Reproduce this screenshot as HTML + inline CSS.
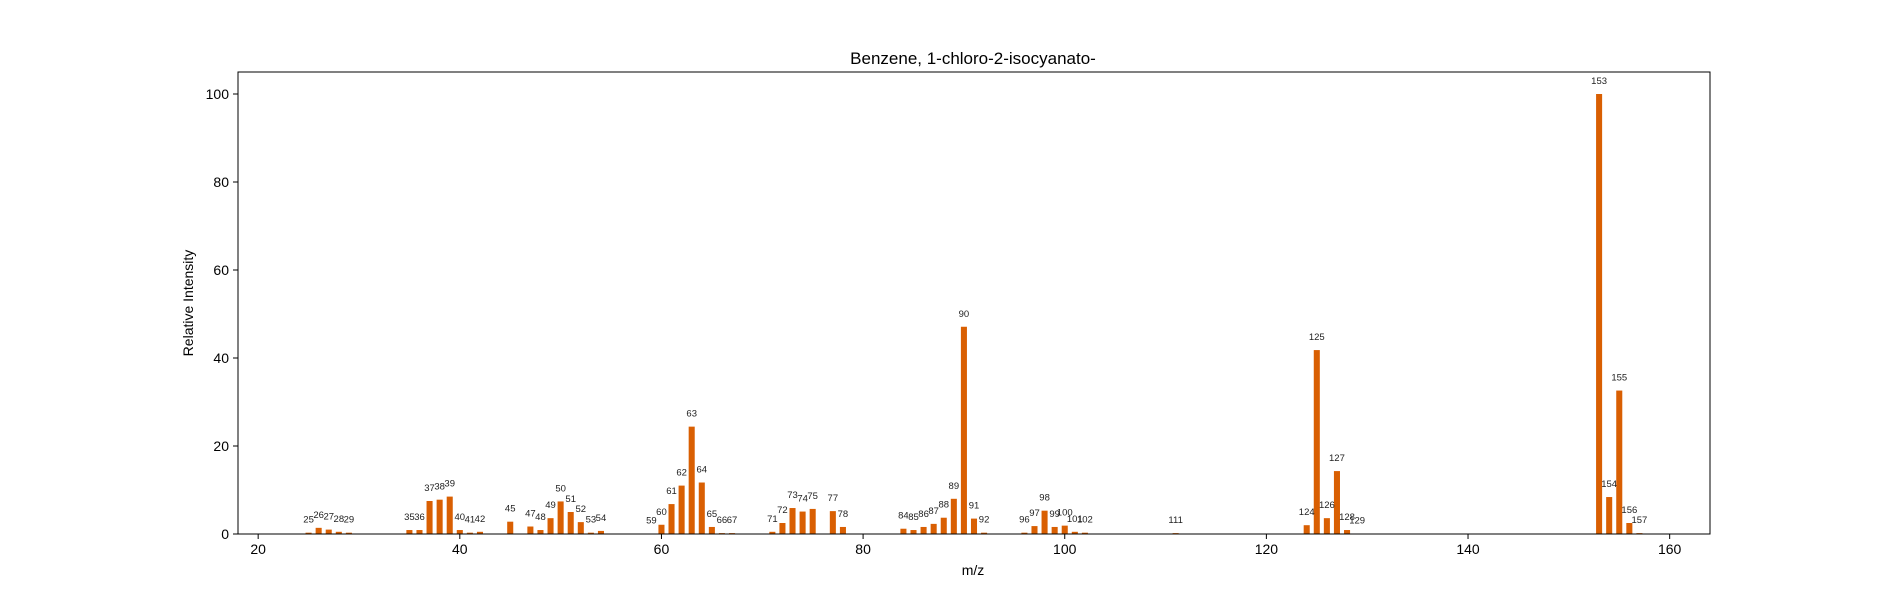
<!DOCTYPE html>
<html><head><meta charset="utf-8"><style>
html,body{margin:0;padding:0;background:#fff;}
svg{display:block;font-family:"Liberation Sans","DejaVu Sans",sans-serif;}
</style></head><body>
<svg id="chart" width="1900" height="600">
<text x="973" y="64" font-size="17" text-anchor="middle">Benzene, 1-chloro-2-isocyanato-</text>
<g id="bars"></g>
<g id="labels"></g>
<rect x="238" y="72" width="1472" height="462" fill="none" stroke="#000" stroke-width="1"/>
<g id="xt"></g>
<g id="yt"></g>
<text x="973" y="575" font-size="14" text-anchor="middle">m/z</text>
<text x="193" y="303" font-size="14" text-anchor="middle" transform="rotate(-90 193 303)">Relative Intensity</text>
</svg>
<script>
const mz = [25,26,27,28,29,35,36,37,38,39,40,41,42,45,47,48,49,50,51,52,53,54,59,60,61,62,63,64,65,66,67,71,72,73,74,75,77,78,84,85,86,87,88,89,90,91,92,96,97,98,99,100,101,102,111,124,125,126,127,128,129,153,154,155,156,157];
const intensity = [0.3,1.4,1.0,0.5,0.3,0.9,0.9,7.5,7.8,8.5,0.9,0.3,0.5,2.8,1.7,0.9,3.6,7.4,5.0,2.7,0.3,0.7,0.1,2.1,6.8,11.0,24.4,11.7,1.6,0.2,0.2,0.5,2.5,5.9,5.1,5.7,5.2,1.6,1.2,0.9,1.6,2.3,3.7,8.0,47.1,3.5,0.3,0.3,1.8,5.3,1.6,1.9,0.5,0.3,0.2,2.0,41.8,3.6,14.3,0.9,0.1,100,8.4,32.6,2.5,0.2];
const xTicks = [20,40,60,80,100,120,140,160];
const yTicks = [0,20,40,60,80,100];
const X0=238, X1=1710, Y0=534, Y1=72, xmin=18, xmax=164, ymin=0, ymax=105;
const xs = v => X0 + (v-xmin)/(xmax-xmin)*(X1-X0);
const ys = v => Y0 - (v-ymin)/(ymax-ymin)*(Y0-Y1);
const NS="http://www.w3.org/2000/svg";
const bars=document.getElementById('bars'), labels=document.getElementById('labels');
const bw = xs(0.6)-xs(0);
mz.forEach((m,i)=>{
  const r=document.createElementNS(NS,'rect');
  r.setAttribute('x',xs(m)-bw/2); r.setAttribute('y',ys(intensity[i]));
  r.setAttribute('width',bw); r.setAttribute('height',Math.max(0,Y0-ys(intensity[i])));
  r.setAttribute('fill','#d95f02');
  
  
  bars.appendChild(r);
  const t=document.createElementNS(NS,'text');
  t.setAttribute('x',xs(m)); t.setAttribute('y',ys(intensity[i])-10);
  t.setAttribute('font-size','9.5'); t.setAttribute('text-anchor','middle'); t.setAttribute('fill','#222');
  t.textContent=m;
  
  
  labels.appendChild(t);
});
const xt=document.getElementById('xt');
xTicks.forEach(v=>{
  const l=document.createElementNS(NS,'line');
  l.setAttribute('x1',xs(v));l.setAttribute('x2',xs(v));l.setAttribute('y1',Y0);l.setAttribute('y2',Y0+5);l.setAttribute('stroke','#000');
  
  
  xt.appendChild(l);
  const t=document.createElementNS(NS,'text');
  t.setAttribute('x',xs(v));t.setAttribute('y',Y0+20);t.setAttribute('font-size','14');t.setAttribute('text-anchor','middle');
  t.textContent=v;
  
  
  xt.appendChild(t);
});
const yt=document.getElementById('yt');
yTicks.forEach(v=>{
  const l=document.createElementNS(NS,'line');
  l.setAttribute('x1',X0-5);l.setAttribute('x2',X0);l.setAttribute('y1',ys(v));l.setAttribute('y2',ys(v));l.setAttribute('stroke','#000');
  
  
  yt.appendChild(l);
  const t=document.createElementNS(NS,'text');
  t.setAttribute('x',X0-9);t.setAttribute('y',ys(v)+5);t.setAttribute('font-size','14');t.setAttribute('text-anchor','end');
  t.textContent=v;
  
  
  yt.appendChild(t);
});
</script>
</body></html>
